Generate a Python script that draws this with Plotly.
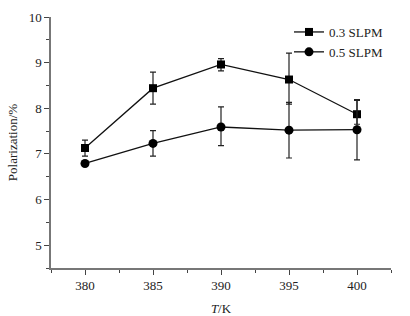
import plotly.graph_objects as go

temps = [380, 385, 390, 395, 400]
pol_03 = [7.13, 8.44, 8.96, 8.63, 7.87]
err_03_plus = [0.17, 0.35, 0.13, 0.58, 0.32]
err_03_minus = [0.18, 0.35, 0.14, 0.54, 0.22]
pol_05 = [6.79, 7.23, 7.59, 7.52, 7.53]
err_05_plus = [0.05, 0.28, 0.44, 0.61, 0.64]
err_05_minus = [0.05, 0.28, 0.41, 0.61, 0.66]
series_names = ["0.3 SLPM", "0.5 SLPM"]

font_family = "Liberation Serif"
fs = 13

fig = go.Figure()
fig.add_trace(go.Scatter(
    x=temps, y=pol_03, name=series_names[0], mode="lines+markers",
    line=dict(color="#111111", width=1.3),
    marker=dict(symbol="square", size=8, color="#000000"),
    error_y=dict(type="data", symmetric=False, array=err_03_plus,
                 arrayminus=err_03_minus, color="#222222", thickness=1.2, width=3),
))
fig.add_trace(go.Scatter(
    x=temps, y=pol_05, name=series_names[1], mode="lines+markers",
    line=dict(color="#111111", width=1.3),
    marker=dict(symbol="circle", size=9, color="#000000"),
    error_y=dict(type="data", symmetric=False, array=err_05_plus,
                 arrayminus=err_05_minus, color="#222222", thickness=1.2, width=3),
))

axis_common = dict(
    showgrid=False, zeroline=False, showline=True, linecolor="#777777", linewidth=1.5,
    ticks="outside", ticklen=5, tickwidth=1, tickcolor="#444444",
    tickfont=dict(family=font_family, size=fs, color="#222222"),
    automargin=False,
)

fig.update_layout(
    width=410, height=316,
    margin=dict(l=51, r=19, t=17, b=48),
    paper_bgcolor="white", plot_bgcolor="white",
    font=dict(family=font_family, color="#222222"),
    showlegend=True,
    legend=dict(x=0.70, y=1.0, xanchor="left", yanchor="top",
                font=dict(family=font_family, size=fs, color="#222222"),
                bgcolor="rgba(0,0,0,0)", itemwidth=30, tracegroupgap=0),
    xaxis=dict(range=[377.5, 402.5], dtick=5, tick0=380,
               minor=dict(dtick=2.5, tick0=377.5, ticks="outside", ticklen=3, tickcolor="#444444"),
               title=dict(text="<i>T</i>/K", font=dict(family=font_family, size=fs, color="#222222"), standoff=12),
               **axis_common),
    yaxis=dict(range=[4.5, 10], dtick=1, tick0=5,
               minor=dict(dtick=0.5, tick0=4.5, ticks="outside", ticklen=3, tickcolor="#444444"),
               title=dict(text="Polarization/%", font=dict(family=font_family, size=fs, color="#222222"), standoff=8),
               **axis_common),
)

fig.write_html("out.html", config={"displayModeBar": False},
               post_script="document.body.style.margin='0';document.body.style.overflow='hidden';")
